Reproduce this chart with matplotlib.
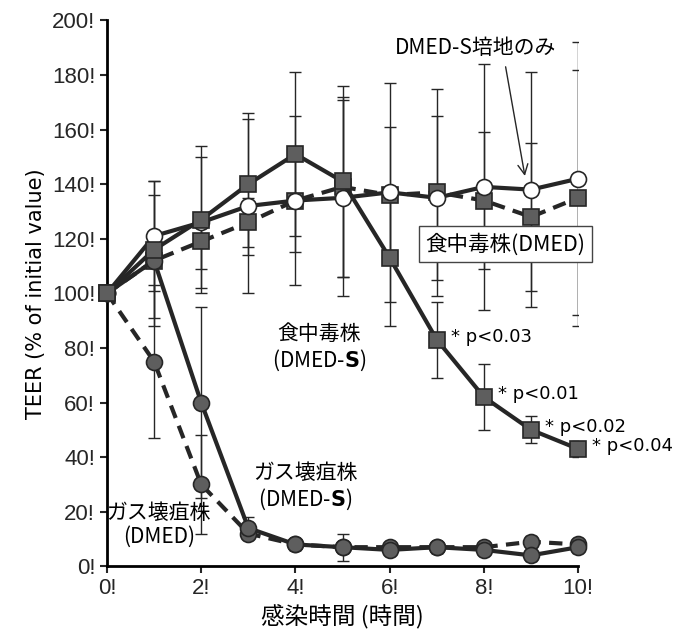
import matplotlib
matplotlib.use('Agg')
import matplotlib.pyplot as plt
import numpy as np

plt.rcParams['font.family'] = ['Noto Sans CJK JP', 'DejaVu Sans']

# data
hours = [0, 1, 2, 3, 4, 5, 6, 7, 8, 9, 10]
medium_only = [100, 121, 126, 132, 134, 135, 137, 135, 139, 138, 142]
medium_only_err = [0, 20, 24, 32, 31, 36, 40, 30, 45, 43, 50]
food_s = [100, 116, 127, 140, 151, 141, 113, 83, 62, 50, 43]
food_s_err = [0, 25, 27, 26, 30, 35, 25, 14, 12, 5, 3]
food_d = [100, 112, 119, 126, 134, 139, 136, 137, 134, 128, 135]
food_d_err = [0, 24, 10, 9, 19, 33, 25, 38, 25, 27, 47]
gas_s = [100, 112, 60, 14, 8, 7, 6, 7, 6, 4, 7]
gas_s_err = [0, 0, 35, 4, 2, 5, 2, 2, 2, 2, 2]
gas_d = [100, 75, 30, 12, 8, 7, 7, 7, 7, 9, 8]
gas_d_err = [0, 28, 18, 2, 2, 2, 2, 2, 2, 2, 2]
p_labels = {7: '* p<0.03', 8: '* p<0.01', 9: '* p<0.02', 10: '* p<0.04'}
yticks = [0, 20, 40, 60, 80, 100, 120, 140, 160, 180, 200]
xticks = [0, 2, 4, 6, 8, 10]

fill = '#5e5e5e'
ink = '#262626'

fig = plt.figure(figsize=(6.77, 6.37), dpi=100)
ax = fig.add_axes([0.158, 0.111, 0.696, 0.857])

err_kw = dict(ecolor=ink, elinewidth=1.0, capsize=4, capthick=1.0, zorder=1)

# error bars first, markers/lines on top
for y, e in [(medium_only, medium_only_err), (food_s, food_s_err), (food_d, food_d_err),
             (gas_s, gas_s_err), (gas_d, gas_d_err)]:
    ax.errorbar(hours, y, yerr=e, fmt='none', **err_kw)

mk = dict(ms=11.5, mec=ink, mew=1.2, clip_on=False)
ax.plot(hours, gas_d, '--', color=ink, lw=3, dashes=(3.2, 2), marker='o',
        mfc=fill, zorder=3, **mk)
ax.plot(hours, gas_s, '-', color=ink, lw=3, marker='o', mfc=fill, zorder=4, **mk)
ax.plot(hours, food_d, '--', color=ink, lw=3, dashes=(3.2, 2), marker='s',
        mfc=fill, zorder=3, **mk)
ax.plot(hours, medium_only, '-', color=ink, lw=3, marker='o', mfc='white', zorder=4, **mk)
ax.plot(hours, food_s, '-', color=ink, lw=3, marker='s', mfc=fill, zorder=5, **mk)

for h, txt in p_labels.items():
    ax.annotate(txt, (h, food_s[h]), xytext=(10, 2), textcoords='offset points',
                fontsize=13, va='center', ha='left', family=['DejaVu Sans'])

# text labels
ax.text(7.83, 190, 'DMED-S培地のみ', fontsize=15, ha='center', va='center')
ax.annotate('', xy=(8.88, medium_only[9] + 4), xytext=(8.45, 184),
            arrowprops=dict(arrowstyle='->', color=ink, lw=1, mutation_scale=18))
ax.text(8.45, 118, '食中毒株(DMED)', fontsize=15.5, ha='center', va='center',
        bbox=dict(boxstyle='square,pad=0.3', fc='white', ec='#444', lw=1))
ax.text(4.5, 80, '食中毒株\n(DMED-$\\bf{S}$)', fontsize=15, ha='center', va='center',
        linespacing=1.1)
ax.text(4.2, 29, 'ガス壊疽株\n(DMED-$\\bf{S}$)', fontsize=15, ha='center', va='center',
        linespacing=1.1)
ax.text(1.1, 15, 'ガス壊疽株\n(DMED)', fontsize=15, ha='center', va='center',
        linespacing=1.1)

ax.set_xlim(0, 10)
ax.set_ylim(0, 200)
ax.set_xticks(xticks)
ax.set_xticklabels([f'{t}!' for t in xticks])
ax.set_yticks(yticks)
ax.set_yticklabels([f'{t}!' for t in yticks])
for lab in ax.get_xticklabels() + ax.get_yticklabels():
    lab.set_family(['Liberation Sans', 'DejaVu Sans'])
    lab.set_fontsize(16)
ax.tick_params(direction='out', length=5, width=1.5, colors=ink)
ax.spines['top'].set_visible(False)
ax.spines['right'].set_visible(False)
ax.spines['left'].set_linewidth(2)
ax.spines['bottom'].set_linewidth(2)

ax.set_ylabel('TEER (% of initial value)', fontsize=15, family=['DejaVu Sans'], labelpad=4)
ax.set_xlabel('感染時間 (時間)', fontsize=17, labelpad=4)

fig.savefig('out.png', dpi=100)
